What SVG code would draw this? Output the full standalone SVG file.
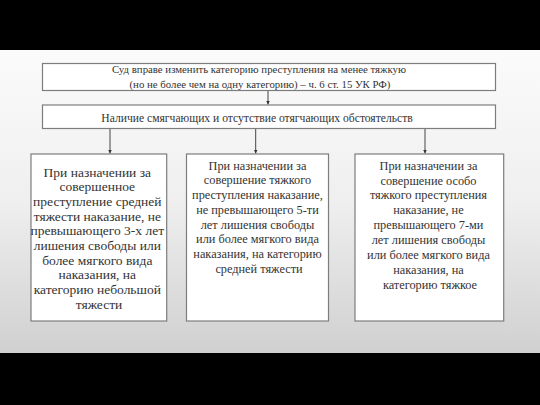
<svg xmlns="http://www.w3.org/2000/svg" width="540" height="405" viewBox="0 0 540 405">
  <defs>
    <linearGradient id="bg" x1="0" y1="50" x2="0" y2="353" gradientUnits="userSpaceOnUse">
      <stop offset="0" stop-color="#fbfbfb"/>
      <stop offset="0.5" stop-color="#efefef"/>
      <stop offset="1" stop-color="#d0d0d0"/>
    </linearGradient>
    <marker id="arr" viewBox="0 0 6 6" refX="6" refY="3" markerWidth="4" markerHeight="4" markerUnits="userSpaceOnUse" orient="auto">
      <path d="M0,0 L6,3 L0,6 Z" fill="#333"/>
    </marker>
    <style>
      .box { fill: #ffffff; stroke: #7d7d7d; stroke-width: 1.2; }
      .t { font-family: "Liberation Serif", "Times New Roman", serif; fill: #333333; text-anchor: middle; }
      .s { font-size: 10.8px; }
      .c { font-size: 11.6px; }
      .l { font-size: 13.5px; }
      .m { font-size: 12.3px; }
      .conn { stroke: #444444; stroke-width: 1; fill: none; marker-end: url(#arr); }
    </style>
  </defs>
  <rect x="0" y="0" width="540" height="405" fill="#000000"/>
  <rect x="0" y="50" width="540" height="303" fill="url(#bg)"/>

  <g id="connectors">
    <line class="conn" x1="268" y1="91" x2="268" y2="104.5"/>
    <line class="conn" x1="110" y1="128.5" x2="110" y2="153.5"/>
    <line class="conn" x1="255.7" y1="128.5" x2="255.7" y2="153.5"/>
    <line class="conn" x1="425" y1="128.5" x2="425" y2="153.5"/>
  </g>

  <g id="top">
    <rect class="box" x="42.5" y="63.5" width="453" height="27"/>
    <text class="t s" x="259" y="73">Суд вправе изменить категорию преступления на менее тяжкую</text>
    <text class="t s" x="260" y="88">(но не более чем на одну категорию) – ч. 6 ст. 15 УК РФ)</text>
  </g>

  <g id="condition">
    <rect class="box" x="42.5" y="105" width="453" height="23.5"/>
    <text class="t c" x="257" y="122">Наличие смягчающих и отсутствие отягчающих обстоятельств</text>
  </g>

  <g id="left">
    <rect class="box" x="31" y="154" width="135.7" height="167"/>
    <text class="t l">
      <tspan x="99" y="176.5">При назначении за</tspan>
      <tspan x="99" y="191.2">совершенное</tspan>
      <tspan x="99" y="205.8">преступление средней</tspan>
      <tspan x="99" y="220.5">тяжести наказание, не</tspan>
      <tspan x="99" y="235.2">превышающего 3-х лет</tspan>
      <tspan x="99" y="249.8">лишения свободы или</tspan>
      <tspan x="99" y="264.5">более мягкого вида</tspan>
      <tspan x="99" y="279.2">наказания, на</tspan>
      <tspan x="99" y="293.8">категорию небольшой</tspan>
      <tspan x="99" y="308.5">тяжести</tspan>
    </text>
  </g>

  <g id="middle">
    <rect class="box" x="186.5" y="154" width="142" height="167"/>
    <text class="t m">
      <tspan x="259" y="169.5">При назначении за</tspan>
      <tspan x="259" y="184.3">совершение тяжкого</tspan>
      <tspan x="259" y="199">преступления наказание,</tspan>
      <tspan x="259" y="213.8">не превышающего 5-ти</tspan>
      <tspan x="259" y="228.5">лет лишения свободы</tspan>
      <tspan x="259" y="243.3">или более мягкого вида</tspan>
      <tspan x="259" y="258">наказания, на категорию</tspan>
      <tspan x="259" y="272.8">средней тяжести</tspan>
    </text>
  </g>

  <g id="right">
    <rect class="box" x="355" y="154" width="148.7" height="167"/>
    <text class="t m">
      <tspan x="430" y="169.5">При назначении за</tspan>
      <tspan x="430" y="184.5">совершение особо</tspan>
      <tspan x="430" y="199.4">тяжкого преступления</tspan>
      <tspan x="430" y="214.4">наказание, не</tspan>
      <tspan x="430" y="229.3">превышающего 7-ми</tspan>
      <tspan x="430" y="244.3">лет лишения свободы</tspan>
      <tspan x="430" y="259.2">или более мягкого вида</tspan>
      <tspan x="430" y="274.2">наказания, на</tspan>
      <tspan x="430" y="289.1">категорию тяжкое</tspan>
    </text>
  </g>
</svg>
